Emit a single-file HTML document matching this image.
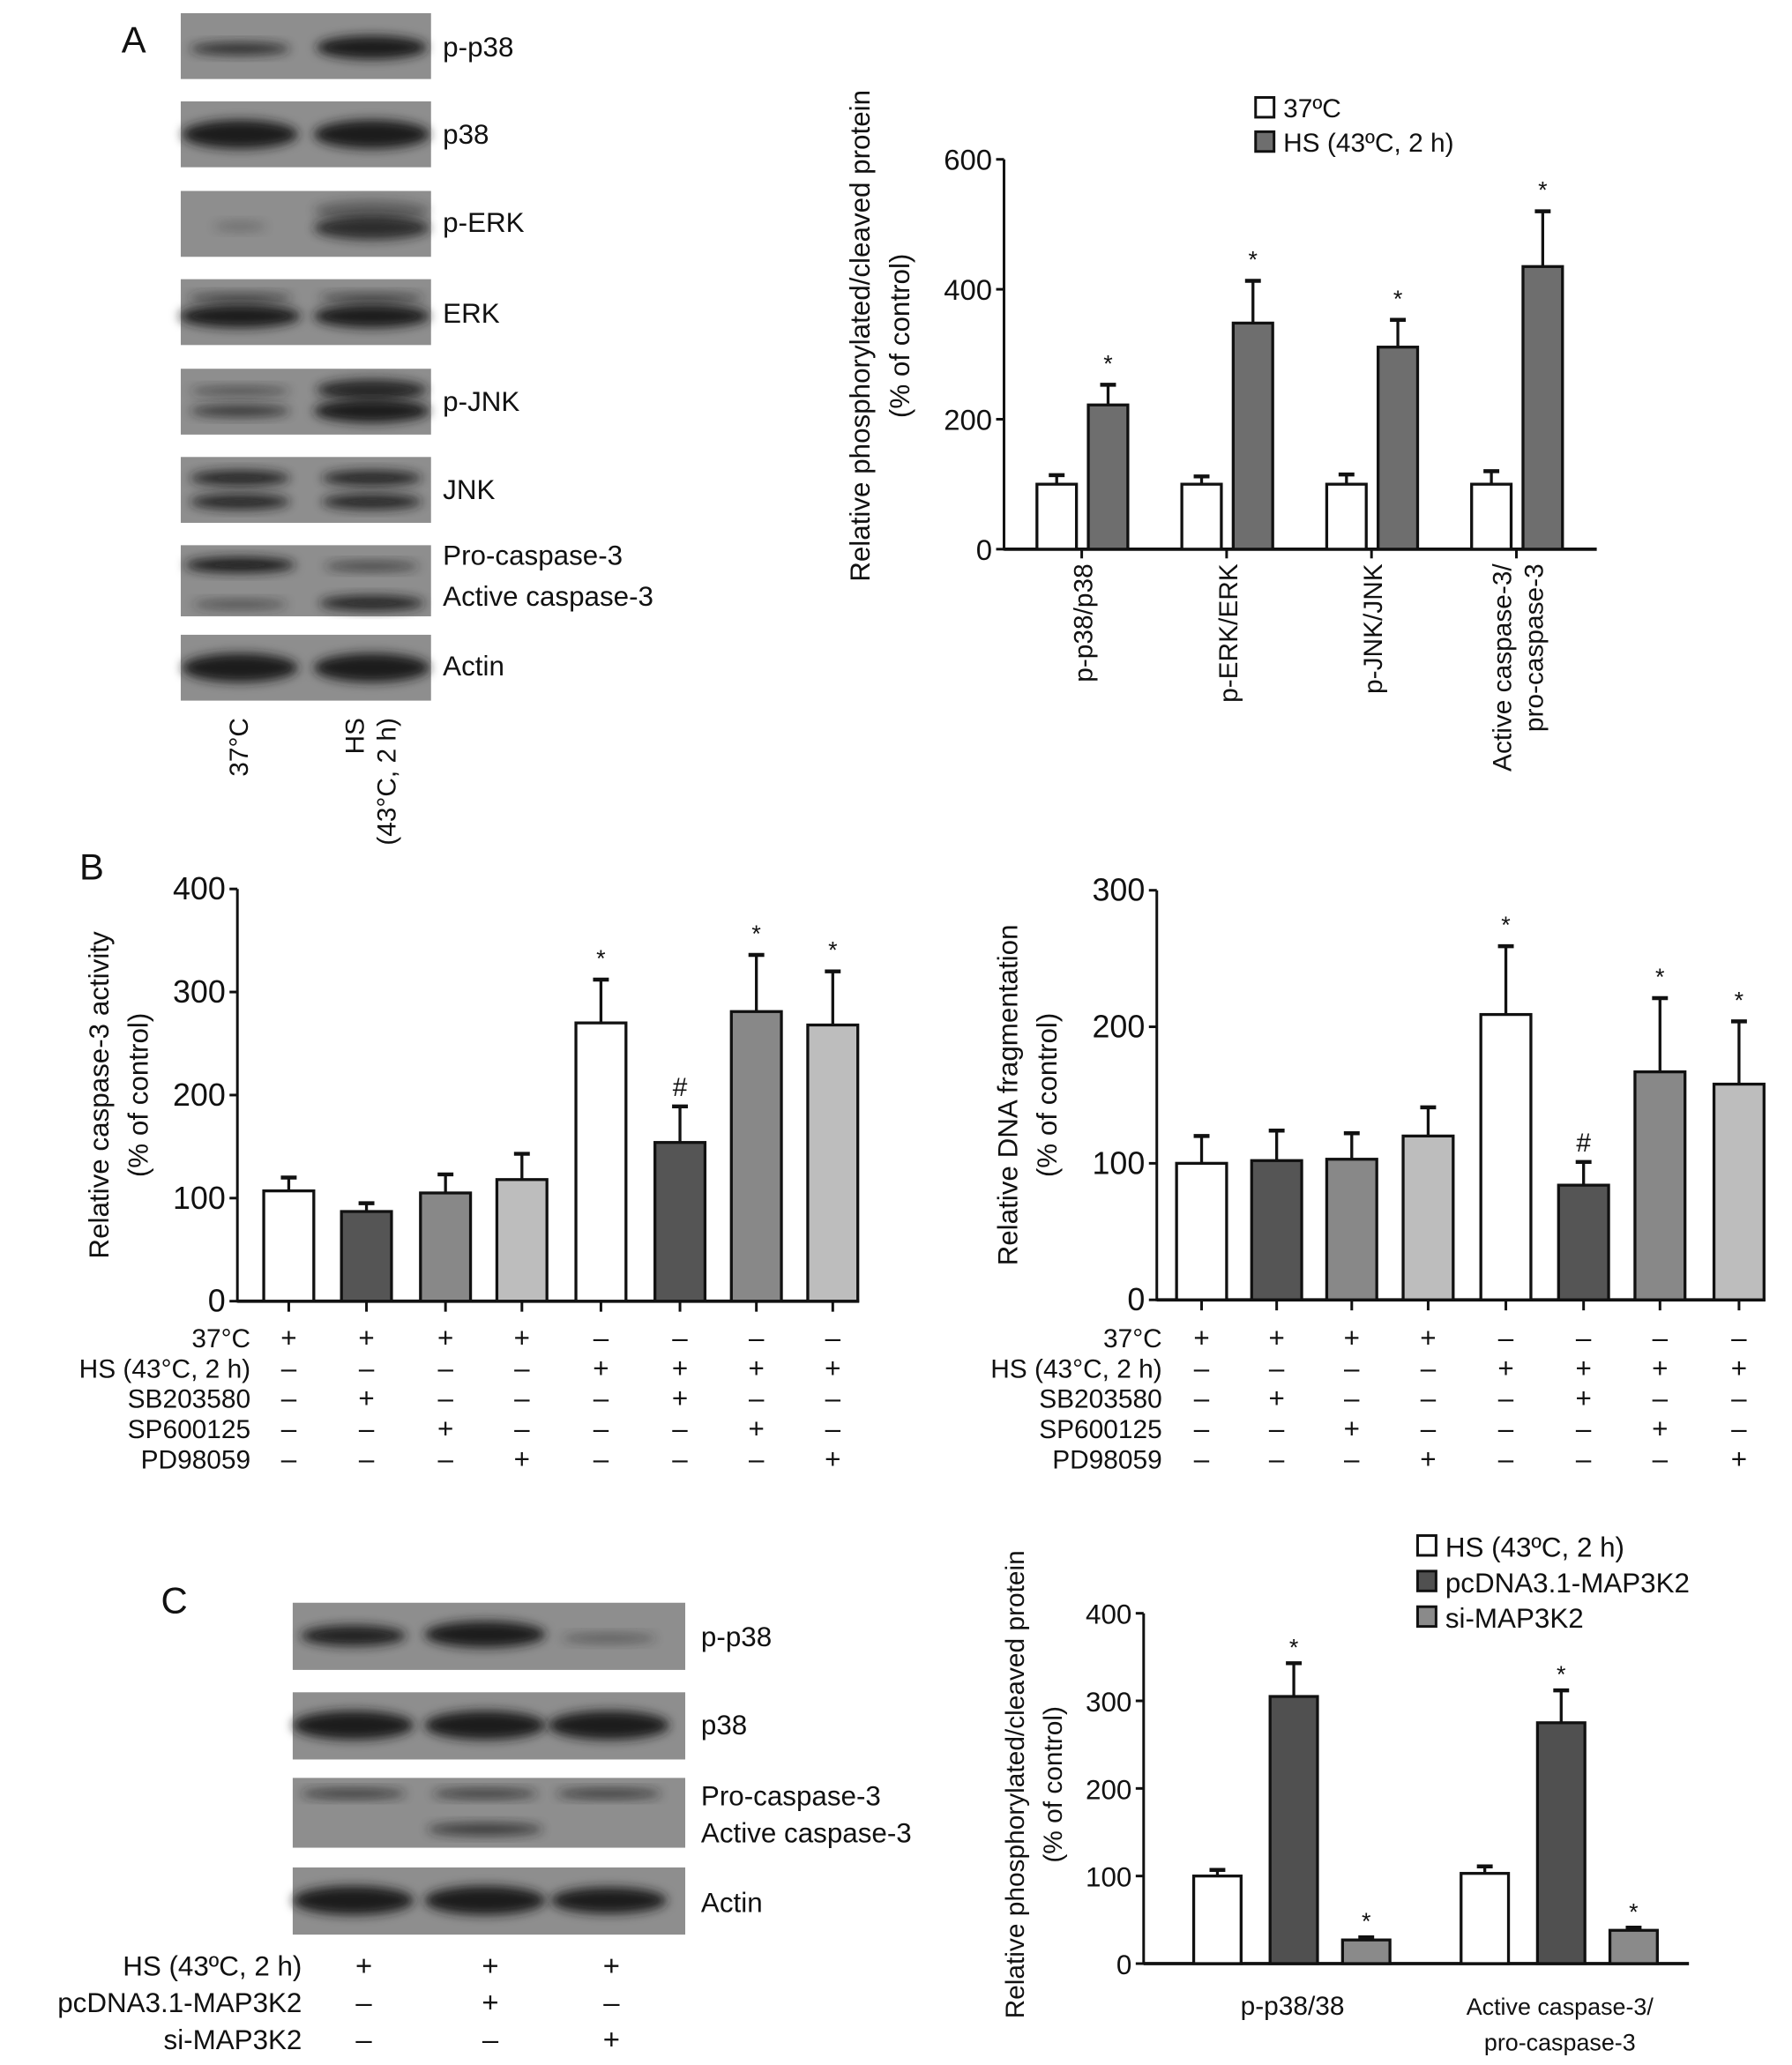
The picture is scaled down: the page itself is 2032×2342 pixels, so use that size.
<!DOCTYPE html>
<html><head><meta charset="utf-8"><style>
html,body{margin:0;padding:0;background:#fff}
svg{display:block}
text{font-family:"Liberation Sans",sans-serif;fill:#111}
</style></head><body>
<svg id="fig" width="2032" height="2342" viewBox="0 0 1360 1568" xmlns="http://www.w3.org/2000/svg">
<defs>
<filter id="bl" x="-20%" y="-50%" width="140%" height="200%"><feGaussianBlur stdDeviation="4"/></filter>
</defs>
<text x="92" y="40" font-size="28">A</text>
<text x="60" y="668" font-size="28">B</text>
<text x="122" y="1225" font-size="28">C</text>
<g id="blots"></g>
<g id="chartA"></g>
<g id="chartB1"></g>
<g id="chartB2"></g>
<g id="chartC"></g>
</svg>
<script>
// ---- data ----
const catsA = ["p-p38/p38","p-ERK/ERK","p-JNK/JNK","Active caspase-3/|pro-caspase-3"];
const ctrlA = [100,100,100,100];
const ctrlAerr = [14,12,15,20];
const hsA = [222,348,311,435];
const hsAerr = [31,65,42,85];
const ticksA = [0,200,400,600];

const valsB1 = [107,87,105,118,270,154,281,268];
const errB1 = [13,8,18,25,42,35,55,52];
const marksB1 = ["","","","","*","#","*","*"];
const ticksB1 = [0,100,200,300,400];
const valsB2 = [100,102,103,120,209,84,167,158];
const errB2 = [20,22,19,21,50,17,54,46];
const marksB2 = ["","","","","*","#","*","*"];
const ticksB2 = [0,100,200,300];
const rowLabelsB = ["37°C","HS (43°C, 2 h)","SB203580","SP600125","PD98059"];
const signsB = [
 "++++----",
 "----++++",
 "-+---+--",
 "--+---+-",
 "---+---+"];

const catsC = ["p-p38/38","Active caspase-3/|pro-caspase-3"];
const seriesC = ["HS (43ºC, 2 h)","pcDNA3.1-MAP3K2","si-MAP3K2"];
const valsC = [[100,305,27],[103,275,38]];
const errC = [[7,38,3],[8,37,3]];
const marksC = [["","*","*"],["","*","*"]];
const ticksC = [0,100,200,300,400];

const NS="http://www.w3.org/2000/svg";
function mk(parent,tag,attrs,txt){const e=document.createElementNS(NS,tag);for(const k in attrs)e.setAttribute(k,attrs[k]);if(txt!==undefined)e.textContent=txt;parent.appendChild(e);return e;}

// ---- blots ----
const B=document.getElementById('blots');
function blot(x,y,w,h,bands,label,name){
  const g=mk(B,'g',{});
  
  
  mk(g,'rect',{x:x,y:y,width:w,height:h,fill:'#8e8e8e'});
  bands.forEach(b=>{const e=mk(g,'ellipse',{cx:b[0],cy:b[1],rx:b[2],ry:b[3],fill:'#1a1a1a',opacity:b[4],filter:'url(#bl)'});});
  label.forEach((l,i)=>{const t=mk(g,'text',{x:l[0],y:l[1],'font-size':21},l[2]);});
}
const L1=182,L2=282;
blot(137,10,190,50,[[L1,37,38,5,0.8],[L2,36,42,9,1]],[[336,43,"p-p38"]],"blot-p-p38");
blot(137,77,190,50,[[L1,102,44,11,1],[L2,102,44,11,1]],[[336,109,"p38"]],"blot-p38");
blot(137,145,190,50,[[L1,172,20,4,0.25],[L2,160,44,8,0.4],[L2,173,44,9,0.85]],[[336,176,"p-ERK"]],"blot-p-erk");
blot(137,212,190,50,[[L1,226,40,4,0.6],[L2,226,40,4,0.6],[L1,240,46,9,1],[L2,240,44,9,1]],[[336,245,"ERK"]],"blot-erk");
blot(137,280,190,50,[[L1,297,38,4,0.5],[L2,296,42,8,0.9],[L1,312,38,5,0.7],[L2,312,44,9,1]],[[336,312,"p-JNK"]],"blot-p-jnk");
blot(137,347,190,50,[[L1,363,38,6,0.9],[L2,363,38,6,0.9],[L1,381,38,6,0.9],[L2,381,38,6,0.9]],[[336,379,"JNK"]],"blot-jnk");
blot(137,414,190,54,[[L1,429,42,6,1],[L2,430,36,4,0.6],[L1,459,36,4,0.5],[L2,458,40,6,0.9]],[[336,429,"Pro-caspase-3"],[336,460,"Active caspase-3"]],"blot-caspase3");
blot(137,482,190,50,[[L1,507,44,11,1],[L2,507,44,11,1]],[[336,513,"Actin"]],"blot-actin");
// A lane labels
(function(){const g=mk(B,'g',{});


mk(g,'text',{transform:'translate(188,545) rotate(-90)','text-anchor':'end','font-size':20},"37°C");
mk(g,'text',{transform:'translate(276,545) rotate(-90)','text-anchor':'end','font-size':20},"HS");
mk(g,'text',{transform:'translate(300,545) rotate(-90)','text-anchor':'end','font-size':20},"(43°C, 2 h)");
})();
// C blots
const C1=268,C2=368,C3=462;
blot(222,1217,298,51,[[C1,1242,40,8,0.95],[C2,1241,46,10,1],[C3,1244,36,4,0.4]],[[532,1250,"p-p38"]],"blot-c-p-p38");
blot(222,1285,298,51,[[C1,1310,46,11,1],[C2,1310,46,11,1],[C3,1310,46,11,1]],[[532,1317,"p38"]],"blot-c-p38");
blot(222,1350,298,53,[[C1,1362,40,4,0.7],[C2,1362,40,4,0.7],[C3,1362,40,4,0.7],[C2,1389,44,5,0.7]],[[532,1371,"Pro-caspase-3"],[532,1399,"Active caspase-3"]],"blot-c-caspase3");
blot(222,1418,298,51,[[C1,1443,46,11,1],[C2,1443,46,11,1],[C3,1443,44,10,1]],[[532,1452,"Actin"]],"blot-c-actin");
(function(){const g=mk(B,'g',{});


const rl=["HS (43ºC, 2 h)","pcDNA3.1-MAP3K2","si-MAP3K2"];const sg=["+++","-+-","--+"];const ys=[1500,1528,1556];
rl.forEach((r,i)=>{mk(g,'text',{x:229,y:ys[i],'text-anchor':'end','font-size':21},r);
 [276,372,464].forEach((x,j)=>{mk(g,'text',{x:x,y:ys[i],'text-anchor':'middle','font-size':22},sg[i][j]=='+'?'+':'–');});});
})();

// ---- generic bar helper ----
function bar(g,x,w,y0,yv,ye,fill,name){
  const r=mk(g,'rect',{x:x,y:yv,width:w,height:y0-yv,fill:fill,stroke:'#111','stroke-width':2.2});
  
  
  const cx=x+w/2;
  mk(g,'line',{x1:cx,y1:yv,x2:cx,y2:ye,stroke:'#111','stroke-width':2.2});
  mk(g,'line',{x1:cx-6,y1:ye,x2:cx+6,y2:ye,stroke:'#111','stroke-width':3});
}
function yaxis(g,x,y0,ytop,ticks,max,fs){
  mk(g,'line',{x1:x,y1:y0+1,x2:x,y2:ytop,stroke:'#111','stroke-width':2});
  ticks.forEach(t=>{const y=y0-(y0-ytop)*t/max;
    mk(g,'line',{x1:x-6,y1:y,x2:x,y2:y,stroke:'#111','stroke-width':2});
    mk(g,'text',{x:x-9,y:y+8,'text-anchor':'end','font-size':fs},String(t));});
}

// ---- chart A ----
(function(){
 const g=document.getElementById('chartA');
 
 
 const x0=762,y0=417,yt=121,max=600;const Y=v=>y0-(y0-yt)*v/max;
 yaxis(g,x0,y0,yt,ticksA,max,22);
 mk(g,'line',{x1:x0,y1:y0,x2:1212,y2:y0,stroke:'#111','stroke-width':2.5});
 catsA.forEach((c,i)=>{const gc=821+110*i;
  bar(g,gc-34,30,y0,Y(ctrlA[i]),Y(ctrlA[i]+ctrlAerr[i]),'#fff','bar-a-37c-'+i);
  bar(g,gc+5,30,y0,Y(hsA[i]),Y(hsA[i]+hsAerr[i]),'#6e6e6e','bar-a-hs-'+i);
  mk(g,'text',{x:gc+20,y:Y(hsA[i]+hsAerr[i])-10,'text-anchor':'middle','font-size':18},'*');
  mk(g,'line',{x1:gc,y1:y0,x2:gc,y2:y0+7,stroke:'#111','stroke-width':2});
  const parts=c.split('|');
  parts.forEach((p,k)=>{mk(g,'text',{transform:`translate(${gc+8+(k-(parts.length-1))*24+(parts.length>1?12:0)},428) rotate(-90)`,'text-anchor':'end','font-size':20},p);});
 });
 mk(g,'text',{transform:'translate(660,255) rotate(-90)','text-anchor':'middle','font-size':21},'Relative phosphorylated/cleaved protein');
 mk(g,'text',{transform:'translate(690,255) rotate(-90)','text-anchor':'middle','font-size':21},'(% of control)');
 const lg=mk(g,'g',{});
 
 
 mk(lg,'rect',{x:953,y:74,width:14,height:15,fill:'#fff',stroke:'#111','stroke-width':2});
 mk(lg,'text',{x:974,y:89,'font-size':20},'37ºC');
 mk(lg,'rect',{x:953,y:100,width:14,height:15,fill:'#6e6e6e',stroke:'#111','stroke-width':2});
 mk(lg,'text',{x:974,y:115,'font-size':20},'HS (43ºC, 2 h)');
})();

// ---- chart B ----
const fillsB=['#fff','#555','#888','#bdbdbd'];
function chartB(id,name,vals,errs,marks,ticks,max,x0,y0,yt,xs,xend,lblx,ylab){
 const g=document.getElementById(id);
 
 
 const Y=v=>y0-(y0-yt)*v/max;
 yaxis(g,x0,y0,yt,ticks,max,24);
 mk(g,'line',{x1:x0,y1:y0,x2:xend,y2:y0,stroke:'#111','stroke-width':2.5});
 vals.forEach((v,i)=>{const cx=xs[i];
  bar(g,cx-19,38,y0,Y(v),Y(v+errs[i]),fillsB[i%4],name+'-bar-'+i);
  if(marks[i])mk(g,'text',{x:cx,y:Y(v+errs[i])-(marks[i]=='#'?8:10),'text-anchor':'middle','font-size':marks[i]=='#'?20:18},marks[i]);
  mk(g,'line',{x1:cx,y1:y0,x2:cx,y2:y0+8,stroke:'#111','stroke-width':2});
 });
 mk(g,'text',{transform:`translate(${ylab},${(y0+yt)/2}) rotate(-90)`,'text-anchor':'middle','font-size':21},ylab<200?'Relative caspase-3 activity':'Relative DNA fragmentation');
 mk(g,'text',{transform:`translate(${ylab+30},${(y0+yt)/2}) rotate(-90)`,'text-anchor':'middle','font-size':21},'(% of control)');
 const ys=[1023,1046,1069,1092,1115];
 rowLabelsB.forEach((r,k)=>{mk(g,'text',{x:lblx,y:ys[k],'text-anchor':'end','font-size':20},r);
  xs.forEach((cx,i)=>{mk(g,'text',{x:cx,y:ys[k],'text-anchor':'middle','font-size':21},signsB[k][i]=='+'?'+':'–');});});
}
chartB('chartB1','chart-b-caspase3-activity',valsB1,errB1,marksB1,ticksB1,400,180,988,675,[219,278,338,396,456,516,574,632],652,190,82);
chartB('chartB2','chart-b-dna-fragmentation',valsB2,errB2,marksB2,ticksB2,300,878,987,676,[912,969,1026,1084,1143,1202,1260,1320],1340,882,772);

// ---- chart C ----
(function(){
 const g=document.getElementById('chartC');
 
 
 const x0=868,y0=1491,yt=1225,max=400;const Y=v=>y0-(y0-yt)*v/max;
 yaxis(g,x0,y0,yt,ticksC,max,21);
 mk(g,'line',{x1:x0,y1:y0,x2:1282,y2:y0,stroke:'#111','stroke-width':2.5});
 const fills=['#fff','#505050','#8a8a8a'];
 catsC.forEach((c,i)=>{const gs=906+203*i;
  valsC[i].forEach((v,j)=>{const x=gs+[0,58,113][j];
   bar(g,x,36,y0,Y(v),Y(v+errC[i][j]),fills[j],'bar-c-'+i+'-'+j);
   if(marksC[i][j])mk(g,'text',{x:x+18,y:Y(v+errC[i][j])-6,'text-anchor':'middle','font-size':18},'*');});
  const parts=c.split('|');
  parts.forEach((p,k)=>{mk(g,'text',{x:gs+75,y:1530+27*k,'text-anchor':'middle','font-size':parts.length>1?18:20},p);});
 });
 mk(g,'text',{transform:'translate(777,1355) rotate(-90)','text-anchor':'middle','font-size':20},'Relative phosphorylated/cleaved protein');
 mk(g,'text',{transform:'translate(806,1355) rotate(-90)','text-anchor':'middle','font-size':20},'(% of control)');
 const lg=mk(g,'g',{});
 
 
 seriesC.forEach((s,j)=>{const y=1166+27*j;
  mk(lg,'rect',{x:1076,y:y,width:14,height:15,fill:fills[j],stroke:'#111','stroke-width':2});
  mk(lg,'text',{x:1097,y:y+16,'font-size':21},s);});
})();
</script>
</body></html>
